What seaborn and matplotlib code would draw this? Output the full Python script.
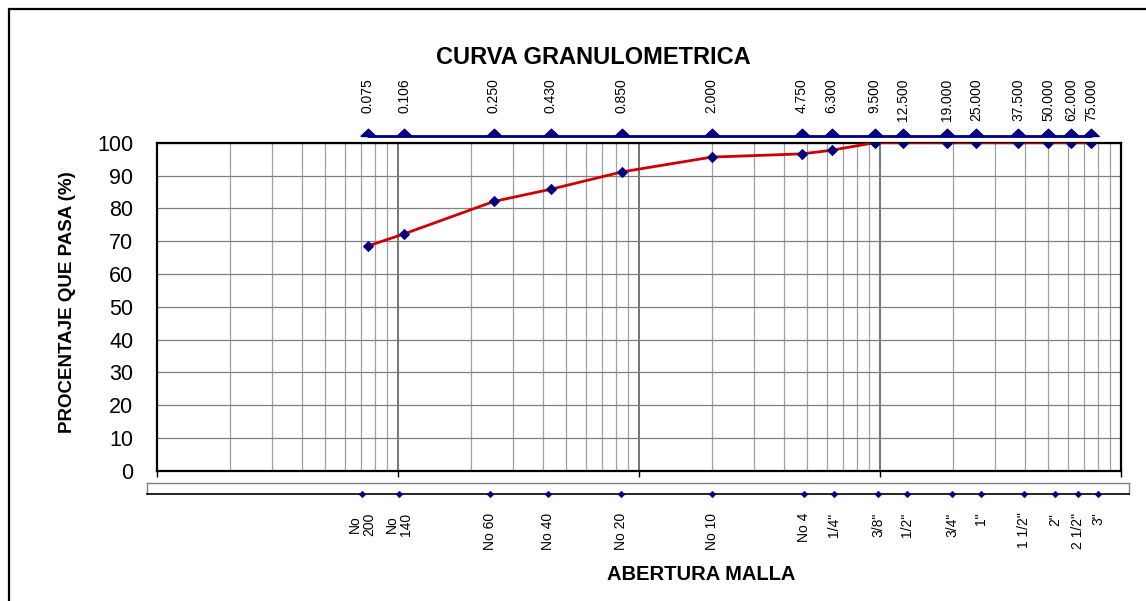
import numpy as np
import pandas as pd
import matplotlib
matplotlib.use('Agg')
import matplotlib.pyplot as plt
from matplotlib.ticker import NullLocator, NullFormatter
from matplotlib.patches import Rectangle
import seaborn as sns

# datos de la curva granulometrica
aberturas = [0.075, 0.106, 0.250, 0.430, 0.850, 2.000, 4.750, 6.300, 9.500,
             12.500, 19.000, 25.000, 37.500, 50.000, 62.000, 75.000]
pasa = [68.5, 72.2, 82.1, 85.8, 91.1, 95.6, 96.6, 97.7, 100.0,
        100.0, 100.0, 100.0, 100.0, 100.0, 100.0, 100.0]
mallas = ['No\n200', 'No\n140', 'No 60', 'No 40', 'No 20', 'No 10', 'No 4', '1/4"',
          '3/8"', '1/2"', '3/4"', '1"', '1 1/2"', '2"', '2 1/2"', '3"']
y_ticks = [0, 10, 20, 30, 40, 50, 60, 70, 80, 90, 100]

df = pd.DataFrame({'abertura': aberturas, 'pasa': pasa, 'malla': mallas})

sns.set_theme(style='white')
plt.rcParams['font.family'] = ['Liberation Sans', 'DejaVu Sans']
plt.rcParams['text.color'] = 'black'
plt.rcParams['axes.labelcolor'] = 'black'
plt.rcParams['xtick.color'] = 'black'
plt.rcParams['ytick.color'] = 'black'

W, H = 1146, 601
fig = plt.figure(figsize=(W / 100, H / 100), dpi=100)

def px_axes(left, top, right, bottom):
    return fig.add_axes([left / W, 1 - bottom / H, (right - left) / W, (bottom - top) / H])

navy = '#000080'
red = '#CC0000'

# grafico principal
ax = px_axes(157, 142.7, 1121, 470.7)
ax.set_xscale('log')
sns.lineplot(data=df, x='abertura', y='pasa', ax=ax, color=red, lw=2,
             marker='D', markersize=5.5, markerfacecolor=navy, markeredgecolor=navy,
             zorder=5)
ax.set_xlim(0.01, 100)
ax.set_ylim(0, 100)
ax.set_yticks(y_ticks)
ax.grid(which='major', axis='x', color='#505050', lw=1.1)
ax.grid(which='minor', axis='x', color='#a0a0a0', lw=0.9)
ax.grid(which='major', axis='y', color='#808080', lw=0.9)
ax.xaxis.set_major_formatter(NullFormatter())
ax.xaxis.set_minor_formatter(NullFormatter())
ax.tick_params(axis='x', which='major', bottom=True, length=4, width=1, color='black', direction='out')
ax.tick_params(axis='x', which='minor', length=0)
ax.tick_params(axis='y', length=0, pad=17, labelsize=15.5, labelcolor='black')
for s in ax.spines.values():
    s.set_color('black')
    s.set_linewidth(1.6)
ax.set_xlabel('')
ax.set_ylabel('')

# eje superior con aberturas (mm)
ax_top = px_axes(157, 125.5, 1121, 135.5)
ax_top.set_xscale('log')
ax_top.set_xlim(0.01, 100)
ax_top.set_ylim(0, 1)
tri = [(-1, 0), (0, 0.95), (1, 0), (-1, 0)]
ax_top.plot(aberturas, np.zeros(len(aberturas)), color=navy, lw=2, marker=tri,
            markersize=11, markerfacecolor=navy, markeredgecolor=navy, clip_on=False)
ax_top.xaxis.set_minor_locator(NullLocator())
ax_top.set_xticks(aberturas, labels=['%.3f' % a for a in aberturas])
ax_top.tick_params(axis='x', top=True, bottom=False, labeltop=True, labelbottom=False,
                   length=0, pad=34, labelsize=10, labelrotation=90, labelcolor='black')
for t in ax_top.get_xticklabels():
    t.set_va('top')
ax_top.set_yticks([])
for s in ax_top.spines.values():
    s.set_visible(False)
ax_top.patch.set_alpha(0)

# caja inferior con denominacion de mallas
ax_bot = px_axes(147, 483, 1129, 494)
ax_bot.set_xscale('log')
ax_bot.set_xlim(0.01, 100)
ax_bot.set_ylim(0, 1)
sns.scatterplot(data=df, x='abertura', y=np.zeros(len(df)), ax=ax_bot, color=navy,
                marker='D', s=12, edgecolor=navy, clip_on=False, zorder=5)
ax_bot.xaxis.set_minor_locator(NullLocator())
ax_bot.set_xticks(aberturas, labels=mallas)
ax_bot.tick_params(axis='x', length=0, pad=13.5, labelsize=10, labelrotation=90, labelcolor='black')
for t in ax_bot.get_xticklabels():
    t.set_linespacing(1.05)
ax_bot.set_yticks([])
ax_bot.set_xlabel('')
ax_bot.set_ylabel('')
for k in ['top', 'left', 'right']:
    ax_bot.spines[k].set_color('#808080')
    ax_bot.spines[k].set_linewidth(1)
ax_bot.spines['bottom'].set_color('black')
ax_bot.spines['bottom'].set_linewidth(1.2)

# textos
fig.text(593.5 / W, 1 - 57 / H, 'CURVA GRANULOMETRICA', ha='center', va='center',
         fontsize=17, fontweight='bold', color='black')
fig.text(701 / W, 1 - 575 / H, 'ABERTURA MALLA', ha='center', va='center',
         fontsize=14.5, fontweight='bold', color='black')
fig.text(68 / W, 1 - 302 / H, 'PROCENTAJE QUE PASA (%)', ha='center', va='center',
         rotation=90, fontsize=13.5, fontweight='bold', color='black')

# marco exterior
fig.add_artist(Rectangle((9 / W, -0.05), 1.1, (H - 9) / H + 0.05, transform=fig.transFigure,
                         fill=False, ec='black', lw=1.6))

fig.savefig('out.png', dpi=100)
